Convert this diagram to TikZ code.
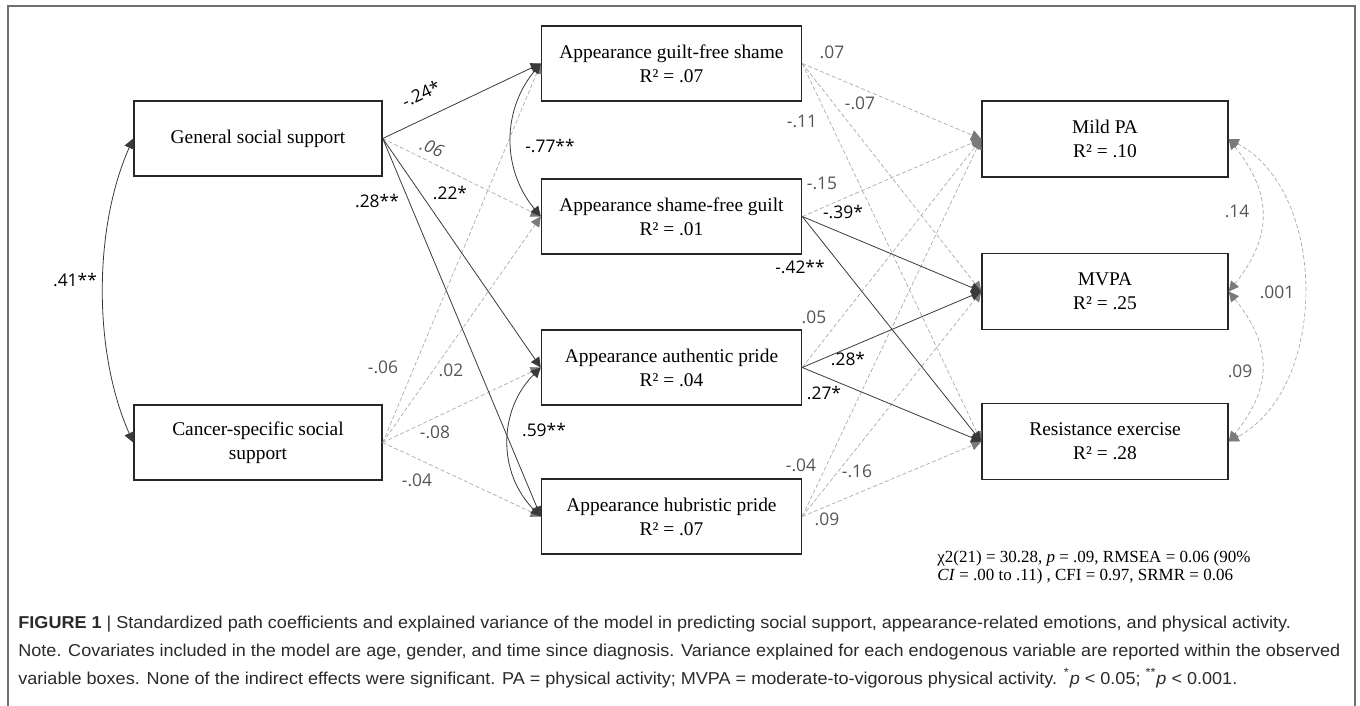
\documentclass[tikz,border=0pt]{standalone}
\usepackage{fontspec}
\usepackage{graphicx}
\setmainfont{Liberation Serif}
\newfontfamily\lblfont{Open Sans}
\newfontfamily\capfont{Liberation Sans}
\usetikzlibrary{arrows.meta,calc}
\definecolor{lblgray}{HTML}{555555}
\definecolor{dashgray}{HTML}{ABABAB}
\definecolor{headgray}{HTML}{7A7A7A}
\definecolor{linedark}{HTML}{3A3A3A}
\definecolor{framegray}{HTML}{6E6E6E}
\definecolor{captxt}{HTML}{2A2A2A}
\newsavebox\fitbox
\newdimen\fitdim
% compute one horizontal ratio from a reference line, keep it globally
\newcommand\setcapratio[2]{\sbox\fitbox{#2}\fitdim=\wd\fitbox\pgfmathsetmacro\tmpratio{#1/\fitdim}\xdef\capratio{\tmpratio}}
\newcommand\capline[1]{\scalebox{\capratio}[1]{#1}}
\tikzset{
  box/.style={draw=black!85, line width=0.75pt, fill=white, inner sep=0pt, align=center,
    minimum height=37.5pt, font=\fontsize{9.7}{12}\selectfont},
  lbox/.style={box, minimum width=124pt},
  mbox/.style={box, minimum width=130pt},
  rbox/.style={box, minimum width=123pt, minimum height=38pt},
  sig/.style={draw=linedark, line width=0.4pt, -{Triangle[length=5pt,width=5pt]}},
  ns/.style={draw=dashgray, line width=0.35pt, dash pattern=on 2pt off 1.2pt,
    -{Triangle[length=5pt,width=5pt,color=headgray]}},
  sigc/.style={draw=linedark, line width=0.4pt, {Triangle[length=5pt,width=5pt]}-{Triangle[length=5pt,width=5pt]}},
  nsc/.style={draw=dashgray, line width=0.35pt, dash pattern=on 2pt off 1.2pt,
    {Triangle[length=5pt,width=5pt,color=headgray]}-{Triangle[length=5pt,width=5pt,color=headgray]}},
  lab/.style={font=\lblfont\fontsize{8.7}{10}\selectfont, text=black, inner sep=0pt},
  glab/.style={lab, text=lblgray},
  captext/.style={font=\capfont\fontsize{8.6}{10}\selectfont, text=captxt, inner sep=0pt, anchor=base west},
  chitext/.style={font=\fontsize{8.5}{10}\selectfont, text=black, inner sep=0pt, anchor=base west}
}
\begin{document}
\begin{tikzpicture}[x=0.5pt,y=-0.5pt]
\useasboundingbox (0,0) rectangle (1360,706);
\draw[framegray, line width=0.8pt] (8,706) -- (8,6) -- (1355,6) -- (1355,706);

% boxes
\node[lbox] (gss) at (258,138.5) {General social support};
\node[lbox] (css) at (258,442.5) {Cancer-specific social\\support};
\node[mbox] (agfs) at (671.5,63.5) {Appearance guilt-free shame\\R² = .07};
\node[mbox] (asfg) at (671.5,216.5) {Appearance shame-free guilt\\R² = .01};
\node[mbox] (aap) at (671.5,367.5) {Appearance authentic pride\\R² = .04};
\node[mbox] (ahp) at (671.5,516.5) {Appearance hubristic pride\\R² = .07};
\node[rbox] (mild) at (1105,139) {Mild PA\\R² = .10};
\node[rbox] (mvpa) at (1105,291.5) {MVPA\\R² = .25};
\node[rbox] (resist) at (1105,441.5) {Resistance exercise\\R² = .28};

% left to middle
\draw[ns] (css.east) -- (agfs.west);
\draw[ns] (css.east) -- (asfg.west);
\draw[ns] (css.east) -- (aap.west);
\draw[ns] (css.east) -- (ahp.west);
\draw[ns] (gss.east) -- (asfg.west);
\draw[sig] (gss.east) -- (agfs.west);
\draw[sig] (gss.east) -- (aap.west);
\draw[sig] (gss.east) -- (ahp.west);

% middle to right
\draw[ns] (agfs.east) -- (mild.west);
\draw[ns] (agfs.east) -- (mvpa.west);
\draw[ns] (agfs.east) -- (resist.west);
\draw[ns] (asfg.east) -- (mild.west);
\draw[ns] (aap.east) -- (mild.west);
\draw[ns] (ahp.east) -- (mild.west);
\draw[ns] (ahp.east) -- (mvpa.west);
\draw[ns] (ahp.east) -- (resist.west);
\draw[sig] (asfg.east) -- (mvpa.west);
\draw[sig] (asfg.east) -- (resist.west);
\draw[sig] (aap.east) -- (mvpa.west);
\draw[sig] (aap.east) -- (resist.west);

% covariances
\draw[sigc] (gss.west) .. controls ($(gss.west)+(-40,90)$) and ($(css.west)+(-40,-90)$) .. (css.west);
\draw[sigc] (agfs.west) .. controls ($(agfs.west)+(-39,47)$) and ($(asfg.west)+(-39,-47)$) .. (asfg.west);
\draw[sigc] (aap.west) .. controls ($(aap.west)+(-43,43)$) and ($(ahp.west)+(-43,-43)$) .. (ahp.west);
\draw[nsc] (mild.east) .. controls ($(mild.east)+(44,55)$) and ($(mvpa.east)+(44,-55)$) .. (mvpa.east);
\draw[nsc] (mvpa.east) .. controls ($(mvpa.east)+(44,55)$) and ($(resist.east)+(44,-55)$) .. (resist.east);
\draw[nsc] (mild.east) .. controls ($(mild.east)+(100,53)$) and ($(resist.east)+(100,-53)$) .. (resist.east);

% labels (black)
\node[lab, rotate=25] (l1) at (421,94) {-.24*};
\node[lab] (l2) at (450,193) {.22*};
\node[lab] (l3) at (377,201) {.28**};
\node[lab] (l4) at (75,280) {.41**};
\node[lab] (l5) at (550,146) {-.77**};
\node[lab] (l6) at (544,430) {.59**};
\node[lab] (l7) at (843,212) {-.39*};
\node[lab] (l8) at (800,267) {-.42**};
\node[lab] (l9) at (848,359) {.28*};
\node[lab] (l10) at (824,393) {.27*};
% labels (gray)
\node[glab, rotate=-22, font=\lblfont\itshape\fontsize{8.7}{10}\selectfont] (g1) at (432,148) {.06};
\node[glab] (g2) at (383,367) {-.06};
\node[glab] (g3) at (451,370) {.02};
\node[glab] (g4) at (435,432) {-.08};
\node[glab] (g5) at (417,480) {-.04};
\node[glab] (g6) at (832,52) {.07};
\node[glab] (g7) at (860,103) {-.07};
\node[glab] (g8) at (802,121) {-.11};
\node[glab] (g9) at (822,183) {-.15};
\node[glab] (g10) at (814,317) {.05};
\node[glab] (g11) at (801,465) {-.04};
\node[glab] (g12) at (857,471) {-.16};
\node[glab] (g13) at (827,519) {.09};
\node[glab] (g14) at (1237,211) {.14};
\node[glab] (g15) at (1277,292) {.001};
\node[glab] (g16) at (1240,371) {.09};

% fit statistics
\node[chitext] (chi1) at (937,562) {χ2(21) = 30.28, \textit{p} = .09, RMSEA = 0.06 (90\%};
\node[chitext] (chi2) at (937,580) {\textit{CI} = .00 to .11) , CFI = 0.97, SRMR = 0.06};

% caption (line 2 sets the common horizontal scale)
\node[captext] (cap2) at (18,656) {\setcapratio{661}{Note. Covariates included in the model are age, gender, and time since diagnosis. Variance explained for each endogenous variable are reported within the observed}\capline{\usebox\fitbox}};
\node[captext] (cap1) at (18,628) {\capline{\textbf{FIGURE 1} | Standardized path coefficients and explained variance of the model in predicting social support, appearance-related emotions, and physical activity.}};
\node[captext] (cap3) at (18,684) {\capline{variable boxes. None of the indirect effects were significant. PA = physical activity; MVPA = moderate-to-vigorous physical activity. \textsuperscript{*}\textit{p} < 0.05; \textsuperscript{**}\textit{p} < 0.001.}};
\end{tikzpicture}
\end{document}
